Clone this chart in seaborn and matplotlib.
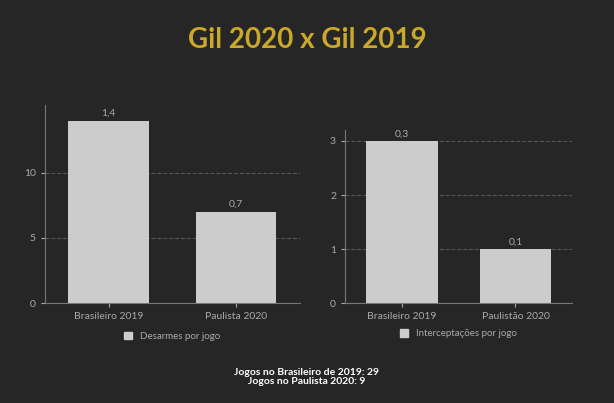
import seaborn as sns
import matplotlib.pyplot as plt
from matplotlib.patches import Patch

plt.rcParams["font.family"] = "Lato"

# data
left_cats = ["Brasileiro 2019", "Paulista 2020"]
left_vals = [14, 7]
left_labels = ["1,4", "0,7"]
right_cats = ["Brasileiro 2019", "Paulistão 2020"]
right_vals = [3, 1]
right_labels = ["0,3", "0,1"]

bg = "#262626"
bar_color = "#cccccc"
text_color = "#aaaaaa"

fig = plt.figure(figsize=(6.14, 4.03), dpi=100, facecolor=bg)
ax1 = fig.add_axes([0.073, 0.248, 0.415, 0.491])
ax2 = fig.add_axes([0.562, 0.248, 0.370, 0.429])


def draw(ax, cats, vals, labels, ylim, ticks, legend):
    ax.set_facecolor(bg)
    sns.barplot(x=cats, y=vals, color=bar_color, width=0.63, saturation=1, ax=ax)
    ax.set_xlim(-0.5, 1.5)
    ax.set_ylim(0, ylim)
    ax.set_yticks(ticks)
    ax.yaxis.grid(True, linestyle="--", color="#555555", linewidth=0.8)
    ax.set_axisbelow(True)
    for s in ["top", "right"]:
        ax.spines[s].set_visible(False)
    for s in ["left", "bottom"]:
        ax.spines[s].set_color("#777777")
    ax.tick_params(colors=text_color, labelsize=7.5, length=3)
    for i, (v, lab) in enumerate(zip(vals, labels)):
        ax.text(i, v + ylim * 0.015, lab, ha="center", va="bottom",
                color=text_color, fontsize=7.5)
    ax.legend(handles=[Patch(color=bar_color, label=legend)], loc="upper center",
              bbox_to_anchor=(0.5, -0.1), frameon=False, fontsize=7,
              labelcolor=text_color, handlelength=0.8, handleheight=0.8)


draw(ax1, left_cats, left_vals, left_labels, 15.2, [0, 5, 10], "Desarmes por jogo")
draw(ax2, right_cats, right_vals, right_labels, 3.2, [0, 1, 2, 3], "Interceptações por jogo")

fig.text(0.5, 0.9, "Gil 2020 x Gil 2019", ha="center", va="center",
         color="#c9a82c", fontsize=20, fontweight="bold")
fig.text(0.5, 0.065, "Jogos no Brasileiro de 2019: 29\nJogos no Paulista 2020: 9",
         ha="center", va="center", color="white", fontsize=7.5,
         fontweight="bold", linespacing=1.0)

fig.savefig("out.png", facecolor=bg)
